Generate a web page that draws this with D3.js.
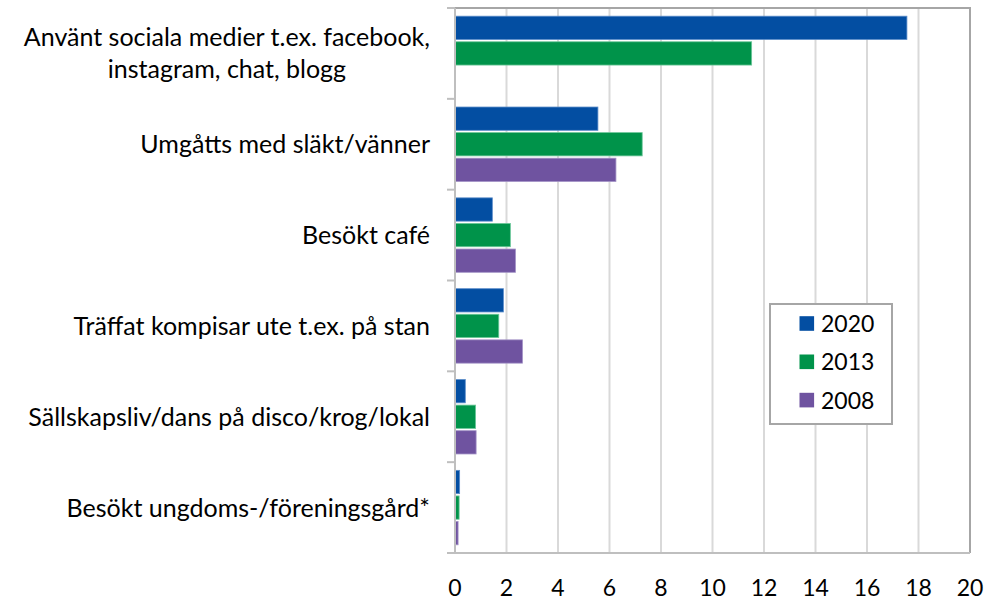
<!DOCTYPE html>
<html>
<head>
<meta charset="utf-8">
<script src="https://cdn.jsdelivr.net/npm/d3@7"></script>
<style>
  body { margin: 0; background: #fff; }
  text { font-family: Lato, "Open Sans", sans-serif; fill: #000; }
</style>
</head>
<body>
<svg id="chart" width="1004" height="600"></svg>
<script>
// categories, top to bottom
var categories = [
    ["Använt sociala medier t.ex. facebook,", "instagram, chat, blogg"],
    ["Umgåtts med släkt/vänner"],
    ["Besökt café"],
    ["Träffat kompisar ute t.ex. på stan"],
    ["Sällskapsliv/dans på disco/krog/lokal"],
    ["Besökt ungdoms-/föreningsgård*"]
];
var series = ["2020", "2013", "2008"];
var values2020 = [17.55, 5.55, 1.45, 1.88, 0.40, 0.18];
var values2013 = [11.52, 7.27, 2.15, 1.70, 0.80, 0.16];
var values2008 = [null, 6.25, 2.35, 2.62, 0.82, 0.12];
var xTicks = [0, 2, 4, 6, 8, 10, 12, 14, 16, 18, 20];
var colors = { "2020": "#034EA2", "2013": "#00934A", "2008": "#6F53A0" };
var strokes = { "2020": "#5B8CC9", "2013": "#6CC79A", "2008": "#A393C6" };

var svg = d3.select("#chart");
var pLeft = 455, pRight = 970, pTop = 8, pBottom = 553;
var numSize = "23px", labelSize = "25px";

var x = d3.scaleLinear().domain([0, 20]).range([pLeft, pRight]);
var y = d3.scaleBand().domain(d3.range(categories.length)).range([pTop, pBottom]);
var y1 = d3.scaleBand().domain(series).range([0, y.bandwidth()])
    .paddingInner(0.09).paddingOuter(0.32);

var rows = categories.map(function(c, i) {
    return { i: i, "2020": values2020[i], "2013": values2013[i], "2008": values2008[i] };
});

// gridlines
svg.append("g").selectAll("line")
    .data(xTicks.slice(1, -1))
    .enter().append("line")
    .attr("x1", function(d) { return x(d); })
    .attr("x2", function(d) { return x(d); })
    .attr("y1", pTop).attr("y2", pBottom)
    .style("stroke", "#D9D9D9")
    .style("stroke-width", 2);

// plot border (top & right)
svg.append("path")
    .attr("d", "M" + pLeft + "," + pTop + "H" + pRight + "V" + pBottom)
    .style("fill", "none")
    .style("stroke", "#A6A6A6")
    .style("stroke-width", 2);

// bars
var groups = svg.append("g").selectAll("g")
    .data(rows)
    .enter().append("g")
    .attr("transform", function(d) { return "translate(0," + y(d.i) + ")"; });

groups.selectAll("rect")
    .data(function(d) {
        return series.map(function(s) { return { s: s, v: d[s] }; })
            .filter(function(e) { return e.v != null; });
    })
    .enter().append("rect")
    .attr("x", x(0))
    .attr("y", function(d) { return y1(d.s); })
    .attr("width", function(d) { return x(d.v) - x(0); })
    .attr("height", y1.bandwidth())
    .style("fill", function(d) { return colors[d.s]; })
    .style("stroke", function(d) { return strokes[d.s]; })
    .style("stroke-width", 0.8);

// bottom axis line + category axis
svg.append("line")
    .attr("x1", pLeft).attr("x2", pRight)
    .attr("y1", pBottom).attr("y2", pBottom)
    .style("stroke", "#BFBFBF").style("stroke-width", 2);
svg.append("line")
    .attr("x1", pLeft).attr("x2", pLeft)
    .attr("y1", pTop).attr("y2", pBottom)
    .style("stroke", "#BFBFBF").style("stroke-width", 2);

svg.append("g").selectAll("line")
    .data(d3.range(categories.length + 1))
    .enter().append("line")
    .attr("x1", pLeft - 8).attr("x2", pLeft)
    .attr("y1", function(d) { return d < categories.length ? y(d) : pBottom; })
    .attr("y2", function(d) { return d < categories.length ? y(d) : pBottom; })
    .style("stroke", "#BFBFBF").style("stroke-width", 2);

// x tick labels
svg.append("g").selectAll("text")
    .data(xTicks)
    .enter().append("text")
    .attr("x", function(d) { return x(d); })
    .attr("y", 596)
    .attr("text-anchor", "middle")
    .style("font-size", numSize)
    .text(function(d) { return d; });

// category labels
var labelRight = 430;
var lab = svg.append("g").selectAll("text")
    .data(categories)
    .enter().append("text")
    .style("font-size", labelSize)
    .attr("text-anchor", "middle");

lab.each(function(lines, i) {
    var t = d3.select(this);
    var cy = y(i) + y.bandwidth() / 2;
    var lh = 32;
    var y0 = cy - (lines.length - 1) * lh / 2 + 9;
    // measure first line to centre others under it
    var probe = svg.append("text").style("font-size", labelSize).text(lines[0]);
    var w = probe.node().getComputedTextLength();
    probe.remove();
    var cx = labelRight - w / 2;
    lines.forEach(function(l, k) {
        t.append("tspan").attr("x", cx).attr("y", y0 + k * lh).text(l);
    });
});

// legend
var lg = svg.append("g").attr("transform", "translate(770,304)");
lg.append("rect")
    .attr("width", 122).attr("height", 120)
    .style("fill", "#fff")
    .style("stroke", "#A6A6A6").style("stroke-width", 2);
series.forEach(function(s, k) {
    var cy = 19.5 + k * 38.3;
    lg.append("rect")
        .attr("x", 29.5).attr("y", cy - 7.3)
        .attr("width", 14.6).attr("height", 14.6)
        .style("fill", colors[s]);
    lg.append("text")
        .attr("x", 51).attr("y", cy + 8.5)
        .style("font-size", numSize)
        .text(s);
});
</script>
</body>
</html>
